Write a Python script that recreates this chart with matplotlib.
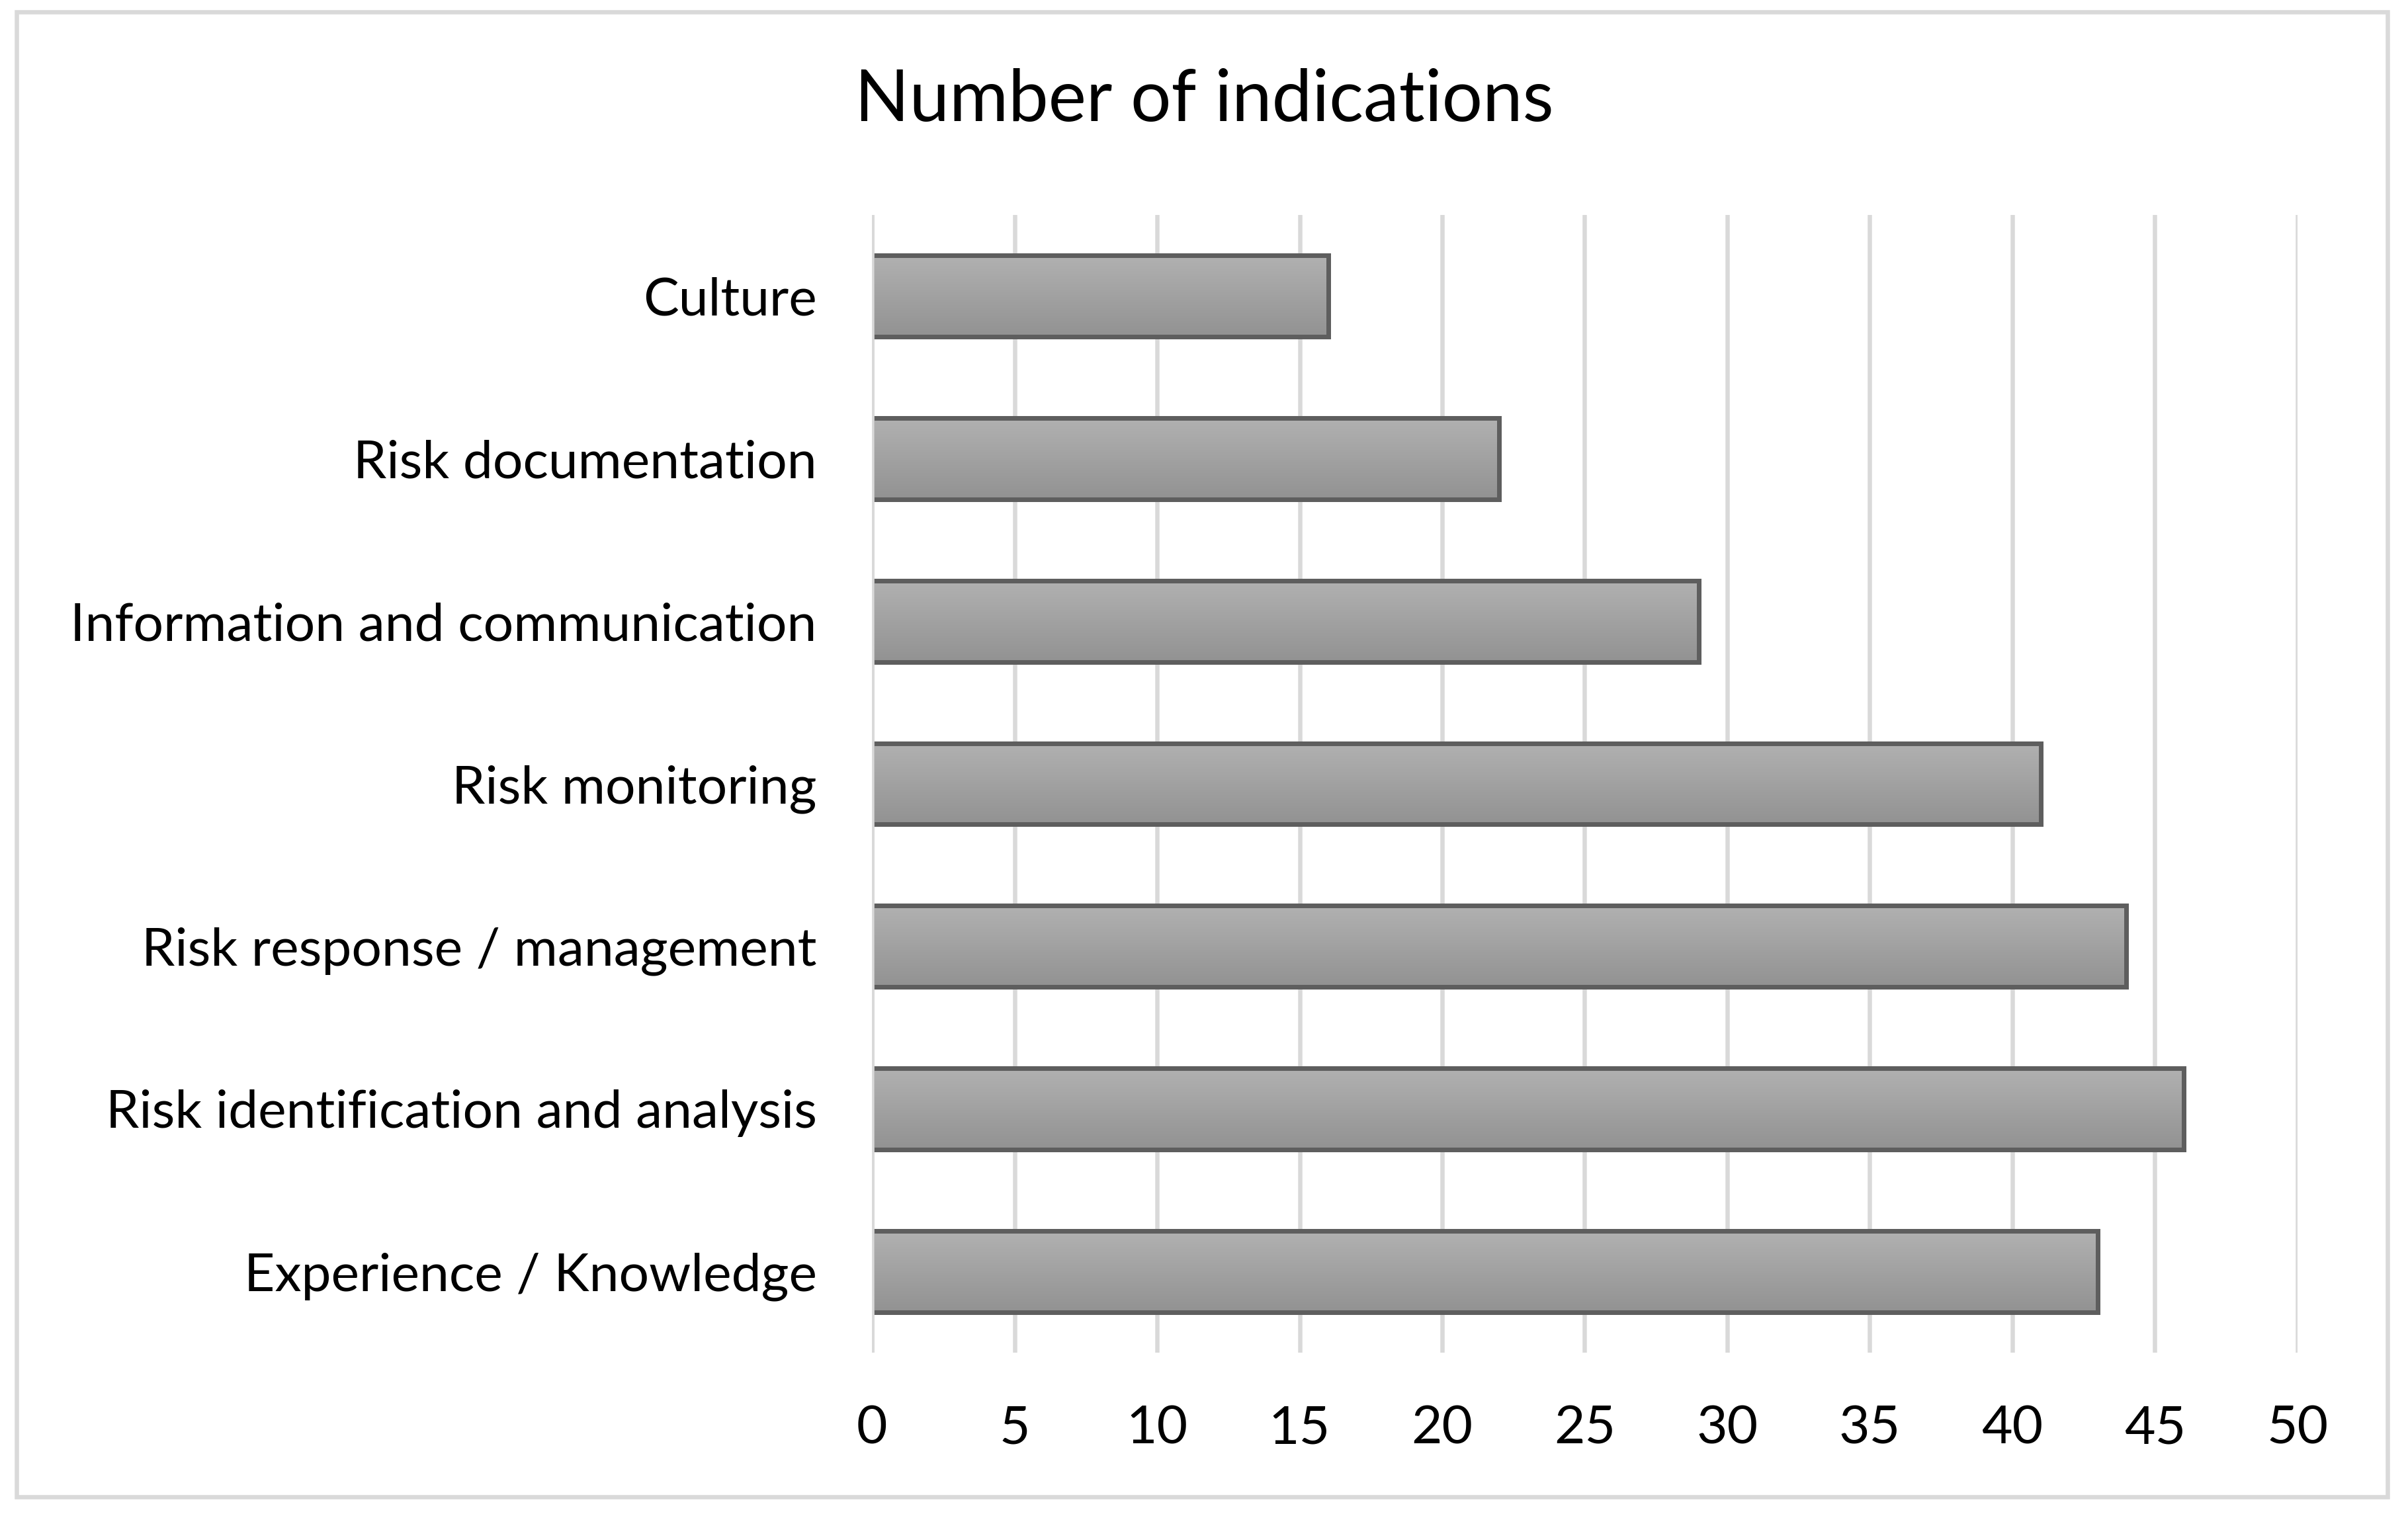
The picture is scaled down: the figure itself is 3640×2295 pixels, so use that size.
import numpy as np
import matplotlib
matplotlib.use("Agg")
import matplotlib.pyplot as plt
from matplotlib.colors import LinearSegmentedColormap
from matplotlib.patches import Rectangle

categories = ["Experience / Knowledge", "Risk identification and analysis",
              "Risk response / management", "Risk monitoring",
              "Information and communication", "Risk documentation", "Culture"]
values = [43, 46, 44, 41, 29, 22, 16]
xticks = [0, 5, 10, 15, 20, 25, 30, 35, 40, 45, 50]
title = "Number of indications"

plt.rcParams['font.family'] = ['Lato', 'DejaVu Sans']

fig = plt.figure(figsize=(3640 / 300, 2295 / 300), dpi=300)
ax = fig.add_axes([0.3621, 0.1089, 0.5920, 0.7495])

# outer chart border
fig.patches.append(Rectangle((0.00687, 0.01373), 0.98461, 0.97821,
                             transform=fig.transFigure, fill=False,
                             edgecolor='#d9d9d9', linewidth=1.56))

y = np.arange(len(categories))
bars = ax.barh(y, values, height=0.5, facecolor='none',
               edgecolor='#5e5e5e', linewidth=1.68, zorder=3)

# vertical gradient fill, light on top, darker below
grad_cmap = LinearSegmentedColormap.from_list("g", ["#b1b1b1", "#929292"])
grad = np.linspace(0, 1, 256).reshape(-1, 1)
for b in bars:
    x0, y0 = b.get_x(), b.get_y()
    w, h = b.get_width(), b.get_height()
    im = ax.imshow(grad, extent=(x0, x0 + w, y0, y0 + h), cmap=grad_cmap,
                   aspect='auto', origin='upper', zorder=2, interpolation='bilinear')
    im.set_clip_path(b)

ax.set_xlim(0, 50)
ax.set_ylim(-0.5, len(categories) - 0.5)
ax.set_xticks(xticks)
ax.set_yticks(y)
ax.set_yticklabels(categories)
ax.tick_params(axis='both', length=0, labelsize=19.3, colors='black')
ax.tick_params(axis='x', pad=19)
ax.tick_params(axis='y', pad=20)

ax.grid(axis='x', color='#d9d9d9', linewidth=1.56, zorder=0)
ax.set_axisbelow(True)
ax.axvline(0, color='#d9d9d9', linewidth=1.6, zorder=4)
for s in ax.spines.values():
    s.set_visible(False)

fig.text(0.5, 1 - 152 / 2295, title, ha='center', va='center', fontsize=26)

fig.savefig("out.png", dpi=300, facecolor='white')
